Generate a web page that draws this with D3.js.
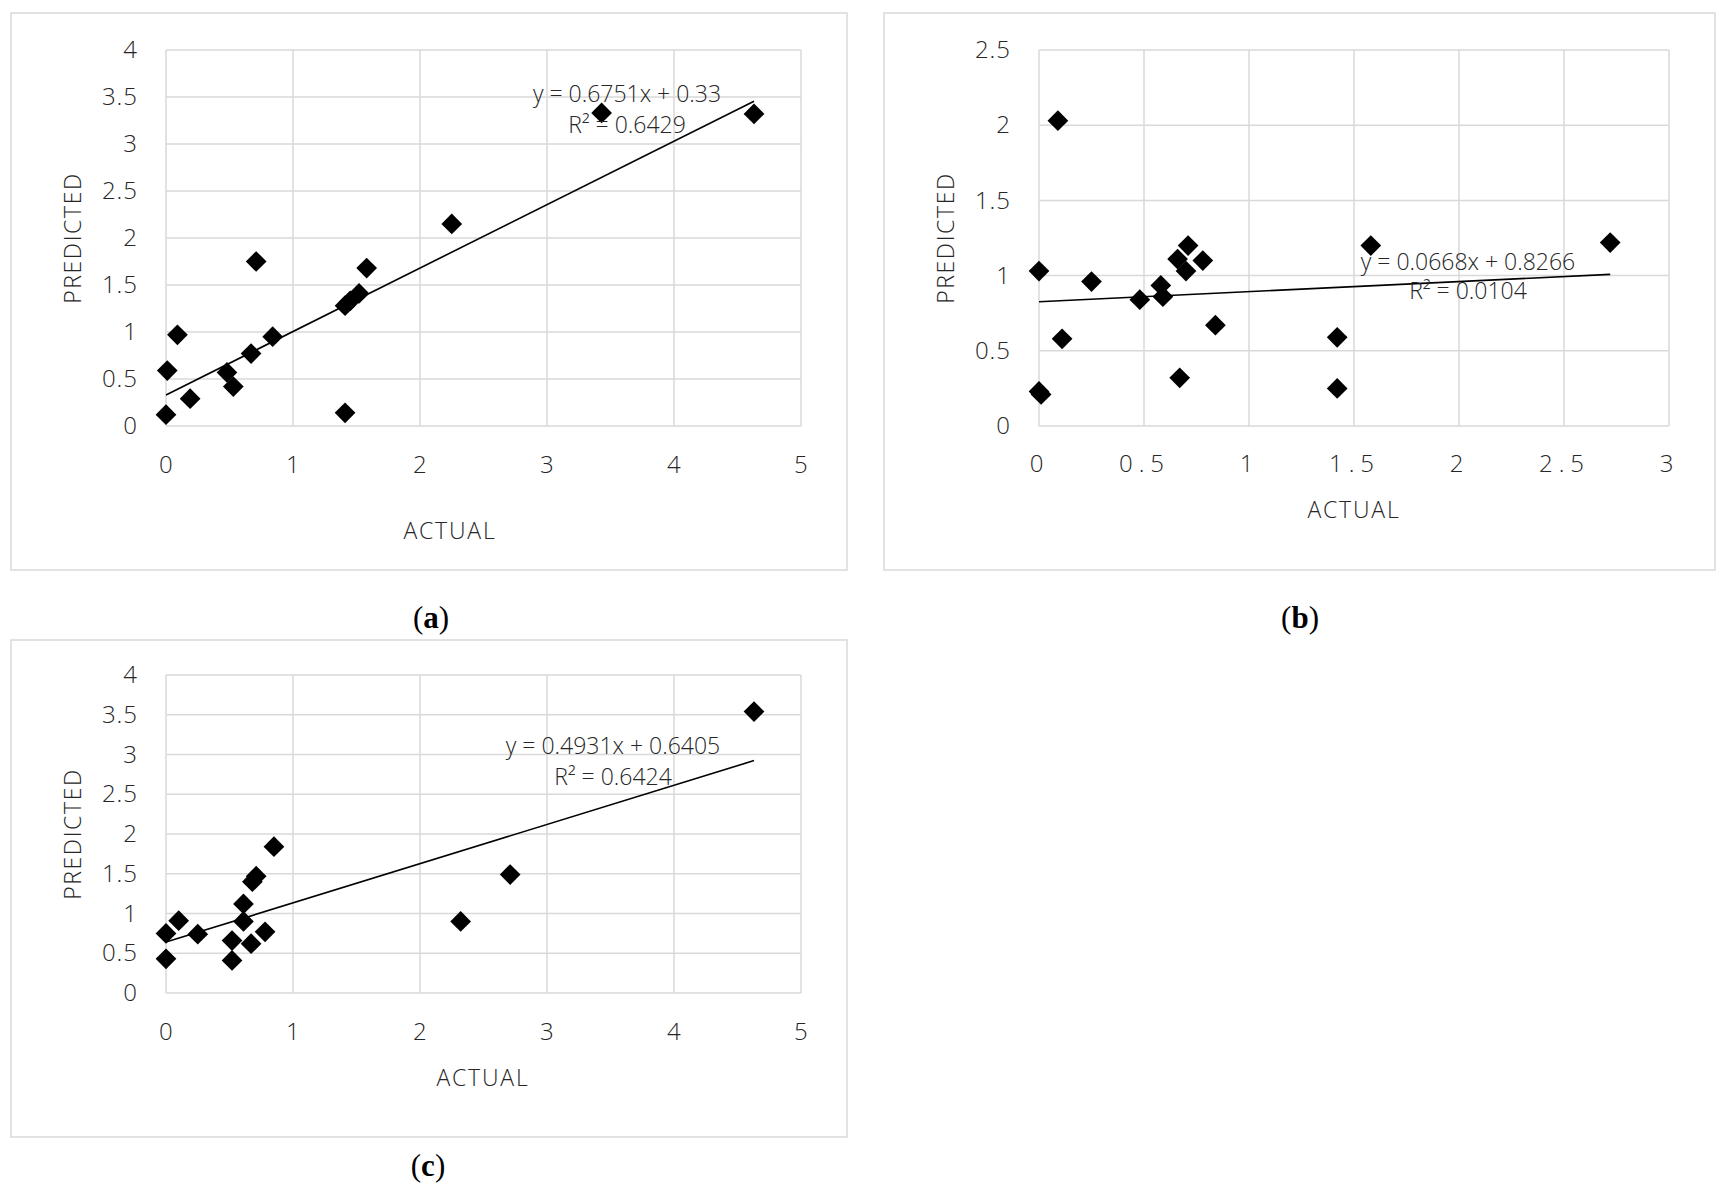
<!DOCTYPE html>
<html>
<head>
<meta charset="utf-8">
<script src="https://cdn.jsdelivr.net/npm/d3@7"></script>
<style>
  body { margin: 0; background: #fff; }
  svg text { font-family: "Open Sans", "Noto Sans", sans-serif; font-weight: 300; fill: #262626; }
  text.caption { font-family: "Liberation Serif", "DejaVu Serif", serif; fill: #000; }
</style>
</head>
<body>
<svg id="chart" width="1728" height="1194"></svg>
<script>
// panel (a)
let aActual    = [0, 0.01, 0.09, 0.19, 0.48, 0.53, 0.67, 0.71, 0.84, 1.41, 1.41, 1.45, 1.52, 1.58, 2.25, 3.43, 4.63];
let aPredicted = [0.12, 0.59, 0.97, 0.29, 0.57, 0.42, 0.77, 1.75, 0.95, 0.14, 1.28, 1.33, 1.41, 1.68, 2.15, 3.33, 3.32];
let aFit = {slope: 0.6751, intercept: 0.33, eq: "y = 0.6751x + 0.33", r2: "R² = 0.6429"};

// panel (b)
let bActual    = [0, 0, 0.01, 0.09, 0.11, 0.25, 0.48, 0.58, 0.59, 0.67, 0.66, 0.70, 0.71, 0.78, 0.84, 1.42, 1.42, 1.58, 2.72];
let bPredicted = [1.03, 0.23, 0.21, 2.03, 0.58, 0.96, 0.84, 0.935, 0.86, 0.32, 1.11, 1.03, 1.2, 1.1, 0.67, 0.59, 0.25, 1.2, 1.22];
let bFit = {slope: 0.0668, intercept: 0.8266, eq: "y = 0.0668x + 0.8266", r2: "R² = 0.0104"};

// panel (c)
let cActual    = [0, 0, 0.1, 0.25, 0.52, 0.52, 0.61, 0.61, 0.67, 0.68, 0.71, 0.78, 0.85, 2.32, 2.71, 4.63];
let cPredicted = [0.75, 0.43, 0.91, 0.74, 0.66, 0.41, 1.12, 0.9, 0.62, 1.4, 1.47, 0.77, 1.84, 0.9, 1.49, 3.54];
let cFit = {slope: 0.4931, intercept: 0.6405, eq: "y = 0.4931x + 0.6405", r2: "R² = 0.6424"};

let ticks5 = [0, 1, 2, 3, 4, 5];
let ticks4 = [0, 0.5, 1, 1.5, 2, 2.5, 3, 3.5, 4];
let ticks3 = [0, 0.5, 1, 1.5, 2, 2.5, 3];
let ticks25 = [0, 0.5, 1, 1.5, 2, 2.5];

let svg = d3.select("#chart");

function drawPanel(p){
    // frame
    svg.append("rect")
        .attr("x", p.frame[0]).attr("y", p.frame[1])
        .attr("width", p.frame[2] - p.frame[0]).attr("height", p.frame[3] - p.frame[1])
        .attr("fill", "none").attr("stroke", "#d9d9d9").attr("stroke-width", 1.5);

    let xScale = d3.scaleLinear().domain(p.xDomain).range([p.left, p.right]);
    let yScale = d3.scaleLinear().domain(p.yDomain).range([p.bottom, p.top]);

    let g = svg.append("g");

    // grid
    g.selectAll(".vgrid").data(p.xTicks).enter().append("line")
        .attr("x1", d => xScale(d)).attr("x2", d => xScale(d))
        .attr("y1", p.top).attr("y2", p.bottom)
        .attr("stroke", "#d9d9d9").attr("stroke-width", 1.5);
    g.selectAll(".hgrid").data(p.yTicks).enter().append("line")
        .attr("x1", p.left).attr("x2", p.right)
        .attr("y1", d => yScale(d)).attr("y2", d => yScale(d))
        .attr("stroke", "#d9d9d9").attr("stroke-width", 1.5);

    // axes (labels only)
    let xAxis = d3.axisBottom(xScale).tickValues(p.xTicks).tickSize(0).tickPadding(p.xPad).tickFormat(d3.format("~g"));
    let yAxis = d3.axisLeft(yScale).tickValues(p.yTicks).tickSize(0).tickPadding(28).tickFormat(d3.format("~g"));

    let xg = g.append("g").attr("transform", "translate(0," + p.bottom + ")").call(xAxis);
    let yg = g.append("g").attr("transform", "translate(" + p.left + ",0)").call(yAxis);
    [xg, yg].forEach(function(ax){
        ax.select(".domain").remove();
        ax.selectAll("text").attr("font-size", 24).attr("fill", "#262626")
            .style("font-family", "'Open Sans', sans-serif");
    });
    xg.selectAll("text").style("letter-spacing", p.xSpacing + "px");
    yg.selectAll("text").style("letter-spacing", "1px");

    // axis titles
    g.append("text")
        .attr("x", p.xTitle[0]).attr("y", p.xTitle[1])
        .attr("text-anchor", "middle").attr("font-size", 23)
        .style("letter-spacing", "1.8px")
        .text("ACTUAL");
    g.append("text")
        .attr("transform", "translate(" + p.yTitle[0] + "," + p.yTitle[1] + ") rotate(-90)")
        .attr("text-anchor", "middle").attr("font-size", 23)
        .style("letter-spacing", "1.6px")
        .text("PREDICTED");

    // trendline
    let xMax = d3.max(p.xs);
    let line = d3.line().x(d => xScale(d)).y(d => yScale(p.fit.slope * d + p.fit.intercept));
    g.append("path")
        .datum([0, xMax])
        .attr("d", line)
        .attr("fill", "none").attr("stroke", "#000").attr("stroke-width", 1.6);

    // points
    let pts = p.xs.map((x, i) => ({x: x, y: p.ys[i]}));
    let diamond = d3.symbol().type(d3.symbolSquare).size(215);
    g.selectAll(".pt").data(pts).enter().append("path")
        .attr("d", diamond)
        .attr("transform", d => "translate(" + xScale(d.x) + "," + yScale(d.y) + ") rotate(45)")
        .attr("fill", "#000");

    // equation label
    g.append("text")
        .attr("x", p.eqPos[0]).attr("y", p.eqPos[1])
        .attr("text-anchor", "middle").attr("font-size", 23)
        .text(p.fit.eq);
    g.append("text")
        .attr("x", p.eqPos[0]).attr("y", p.eqPos[2])
        .attr("text-anchor", "middle").attr("font-size", 23)
        .text(p.fit.r2);

    // caption
    let cap = svg.append("text")
        .attr("class", "caption")
        .attr("x", p.caption[0]).attr("y", p.caption[1])
        .attr("text-anchor", "middle").attr("font-size", 31);
    cap.append("tspan").style("font-weight", 400).text("(");
    cap.append("tspan").style("font-weight", 700).text(p.label);
    cap.append("tspan").style("font-weight", 400).text(")");
}

drawPanel({
    label: "a", xs: aActual, ys: aPredicted, fit: aFit,
    xDomain: [0, 5], yDomain: [0, 4], xTicks: ticks5, yTicks: ticks4,
    left: 166, right: 801, top: 50, bottom: 426, xPad: 30, xSpacing: 1.5,
    frame: [11, 13, 847, 570],
    xTitle: [450, 539], yTitle: [81, 238],
    eqPos: [627, 102, 133],
    caption: [431, 628]
});

drawPanel({
    label: "b", xs: bActual, ys: bPredicted, fit: bFit,
    xDomain: [0, 3], yDomain: [0, 2.5], xTicks: ticks3, yTicks: ticks25,
    left: 1039, right: 1669, top: 50, bottom: 426, xPad: 29, xSpacing: 6,
    frame: [884, 13, 1715, 570],
    xTitle: [1354, 518], yTitle: [954, 238],
    eqPos: [1468, 270, 299],
    caption: [1300, 628]
});

drawPanel({
    label: "c", xs: cActual, ys: cPredicted, fit: cFit,
    xDomain: [0, 5], yDomain: [0, 4], xTicks: ticks5, yTicks: ticks4,
    left: 166, right: 801, top: 675, bottom: 993, xPad: 30, xSpacing: 1.5,
    frame: [11, 640, 847, 1137],
    xTitle: [483, 1086], yTitle: [81, 834],
    eqPos: [613, 754, 785],
    caption: [428, 1176]
});
</script>
</body>
</html>
